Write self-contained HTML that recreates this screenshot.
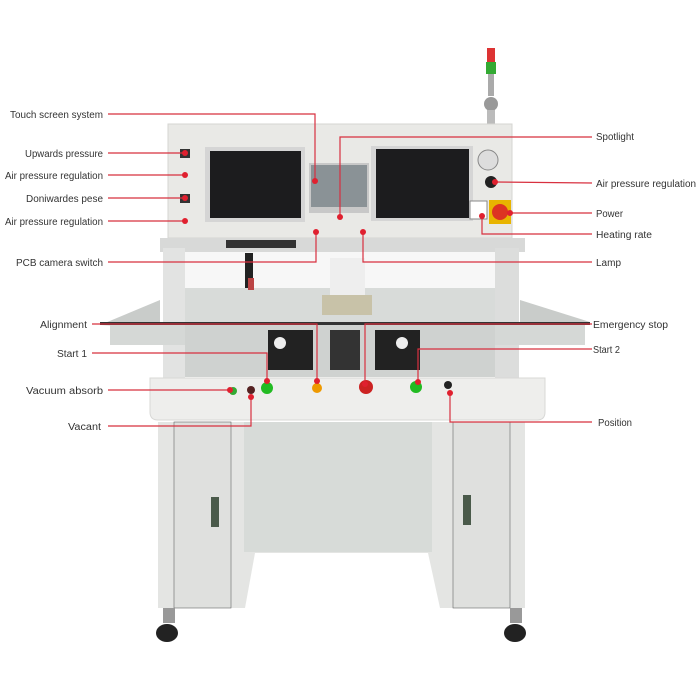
<!DOCTYPE html>
<html><head><style>
html,body{margin:0;padding:0;background:#fff;}
svg{display:block;}
text{font-family:"Liberation Sans",sans-serif;font-size:10px;fill:#333;}
</style></head><body>
<svg width="700" height="700" viewBox="0 0 700 700">
<!-- signal tower -->
<rect x="487" y="48" width="8" height="14" fill="#d33"/>
<rect x="486" y="62" width="10" height="12" fill="#3a3"/>
<rect x="488" y="74" width="6" height="22" fill="#aaa"/>
<circle cx="491" cy="104" r="7" fill="#999"/>
<rect x="487" y="110" width="8" height="14" fill="#bbb"/>
<!-- top panel -->
<rect x="168" y="124" width="344" height="114" fill="#e9e9e6" stroke="#d5d5d2"/>
<rect x="205" y="147" width="100" height="75" fill="#d5d5d5"/>
<rect x="210" y="151" width="91" height="67" fill="#1c1c1e"/>
<rect x="309" y="163" width="60" height="50" fill="#c8c8c8"/>
<rect x="311" y="165" width="56" height="42" fill="#8a9296"/>
<rect x="371" y="146" width="102" height="75" fill="#d5d5d5"/>
<rect x="376" y="149" width="93" height="69" fill="#1c1c1e"/>
<rect x="180" y="149" width="10" height="9" fill="#333"/>
<rect x="180" y="194" width="10" height="9" fill="#333"/>
<circle cx="488" cy="160" r="10" fill="#ddd" stroke="#888"/>
<circle cx="491" cy="182" r="6" fill="#222"/>
<rect x="470" y="201" width="17" height="18" fill="#fff" stroke="#888"/>
<rect x="489" y="200" width="22" height="24" fill="#e8b400"/>
<circle cx="500" cy="212" r="8" fill="#d32"/>
<!-- gantry -->
<rect x="160" y="238" width="365" height="14" fill="#d8d9d8"/>
<rect x="226" y="240" width="70" height="8" fill="#333"/>
<rect x="163" y="248" width="22" height="130" fill="#e2e3e2"/>
<rect x="495" y="248" width="24" height="130" fill="#dcdddc"/>
<rect x="185" y="252" width="310" height="36" fill="#f7f7f7"/>
<rect x="185" y="288" width="310" height="35" fill="#d8dbd9"/>
<polygon points="100,325 160,300 160,328" fill="#c9ccca"/>
<polygon points="520,300 590,322 520,322" fill="#c9ccca"/>
<rect x="100" y="322" width="490" height="3" fill="#333"/>
<rect x="110" y="325" width="475" height="20" fill="#d5d8d6"/>
<rect x="185" y="325" width="310" height="52" fill="#cfd2d0"/>
<rect x="245" y="253" width="8" height="35" fill="#222"/>
<rect x="248" y="278" width="6" height="12" fill="#b44"/>
<rect x="330" y="258" width="35" height="40" fill="#eee"/>
<rect x="322" y="295" width="50" height="20" fill="#c8c2a8"/>
<rect x="268" y="330" width="45" height="40" fill="#222"/>
<rect x="330" y="330" width="30" height="40" fill="#333"/>
<rect x="375" y="330" width="45" height="40" fill="#222"/>
<circle cx="280" cy="343" r="6" fill="#eee"/>
<circle cx="402" cy="343" r="6" fill="#eee"/>
<!-- desk -->
<path d="M150,378 L545,378 L545,412 Q545,420 537,420 L158,420 Q150,420 150,412 Z" fill="#eeeeec" stroke="#d8d8d6"/>
<circle cx="233" cy="391" r="4" fill="#3a3"/>
<circle cx="251" cy="390" r="4" fill="#522"/>
<circle cx="267" cy="388" r="6" fill="#2b2"/>
<circle cx="317" cy="388" r="5" fill="#e90"/>
<circle cx="366" cy="387" r="7" fill="#c22"/>
<circle cx="416" cy="387" r="6" fill="#2b2"/>
<circle cx="448" cy="385" r="4" fill="#222"/>
<!-- cabinet -->
<rect x="158" y="422" width="367" height="186" fill="#e4e5e3"/>
<rect x="174" y="422" width="57" height="186" fill="#dfe0de" stroke="#666" stroke-width="0.6"/>
<rect x="453" y="422" width="57" height="186" fill="#dfe0de" stroke="#666" stroke-width="0.6"/>
<rect x="244" y="422" width="188" height="130" fill="#d7dbd8"/>
<polygon points="255,553 428,553 440,608 245,608" fill="#fff"/>
<rect x="211" y="497" width="8" height="30" fill="#4a5a4a"/>
<rect x="463" y="495" width="8" height="30" fill="#4a5a4a"/>
<rect x="163" y="608" width="12" height="15" fill="#999"/>
<ellipse cx="167" cy="633" rx="11" ry="9" fill="#222"/>
<rect x="510" y="608" width="12" height="15" fill="#999"/>
<ellipse cx="515" cy="633" rx="11" ry="9" fill="#222"/>
<!-- leader lines -->
<g stroke="#d8303f" stroke-width="1.2" fill="none">
<polyline points="108,114 315,114 315,181"/>
<polyline points="340,217 340,137 592,137"/>
<polyline points="108,153 185,153"/>
<polyline points="108,175 185,175"/>
<polyline points="108,198 185,198"/>
<polyline points="108,221 185,221"/>
<polyline points="495,182 592,183"/>
<polyline points="510,213 592,213"/>
<polyline points="482,216 482,234 592,234"/>
<polyline points="108,262 316,262 316,232"/>
<polyline points="363,232 363,262 592,262"/>
<polyline points="92,324 317,324 317,381"/>
<polyline points="365,384 365,324 592,324"/>
<polyline points="92,353 267,353 267,381"/>
<polyline points="418,382 418,349 592,349"/>
<polyline points="108,390 230,390"/>
<polyline points="108,426 251,426 251,397"/>
<polyline points="450,393 450,422 592,422"/>
</g>
<g fill="#e0202f">
<circle cx="315" cy="181" r="3"/><circle cx="340" cy="217" r="3"/>
<circle cx="185" cy="153" r="3"/><circle cx="185" cy="175" r="3"/><circle cx="185" cy="198" r="3"/><circle cx="185" cy="221" r="3"/>
<circle cx="495" cy="182" r="3"/><circle cx="510" cy="213" r="3"/><circle cx="482" cy="216" r="3"/>
<circle cx="316" cy="232" r="3"/><circle cx="363" cy="232" r="3"/>
<circle cx="317" cy="381" r="3"/><circle cx="365" cy="384" r="3"/><circle cx="267" cy="381" r="3"/><circle cx="418" cy="382" r="3"/>
<circle cx="230" cy="390" r="3"/><circle cx="251" cy="397" r="3"/><circle cx="450" cy="393" r="3"/>
</g>
<text x="10" y="118" textLength="93" lengthAdjust="spacingAndGlyphs">Touch screen system</text>
<text x="25" y="157" textLength="78" lengthAdjust="spacingAndGlyphs">Upwards pressure</text>
<text x="5" y="179" textLength="98" lengthAdjust="spacingAndGlyphs">Air pressure regulation</text>
<text x="26" y="202" textLength="77" lengthAdjust="spacingAndGlyphs">Doniwardes pese</text>
<text x="5" y="225" textLength="98" lengthAdjust="spacingAndGlyphs">Air pressure regulation</text>
<text x="16" y="266" textLength="87" lengthAdjust="spacingAndGlyphs">PCB camera switch</text>
<text x="40" y="328" textLength="47" lengthAdjust="spacingAndGlyphs">Alignment</text>
<text x="57" y="357" textLength="30" lengthAdjust="spacingAndGlyphs">Start 1</text>
<text x="26" y="394" textLength="77" lengthAdjust="spacingAndGlyphs">Vacuum absorb</text>
<text x="68" y="430" textLength="33" lengthAdjust="spacingAndGlyphs">Vacant</text>
<text x="596" y="140" textLength="38" lengthAdjust="spacingAndGlyphs">Spotlight</text>
<text x="596" y="187" textLength="100" lengthAdjust="spacingAndGlyphs">Air pressure regulation</text>
<text x="596" y="217" textLength="27" lengthAdjust="spacingAndGlyphs">Power</text>
<text x="596" y="238" textLength="56" lengthAdjust="spacingAndGlyphs">Heating rate</text>
<text x="596" y="266" textLength="25" lengthAdjust="spacingAndGlyphs">Lamp</text>
<text x="593" y="328" textLength="75" lengthAdjust="spacingAndGlyphs">Emergency stop</text>
<text x="593" y="353" textLength="27" lengthAdjust="spacingAndGlyphs">Start 2</text>
<text x="598" y="426" textLength="34" lengthAdjust="spacingAndGlyphs">Position</text>
</svg>
</body></html>
